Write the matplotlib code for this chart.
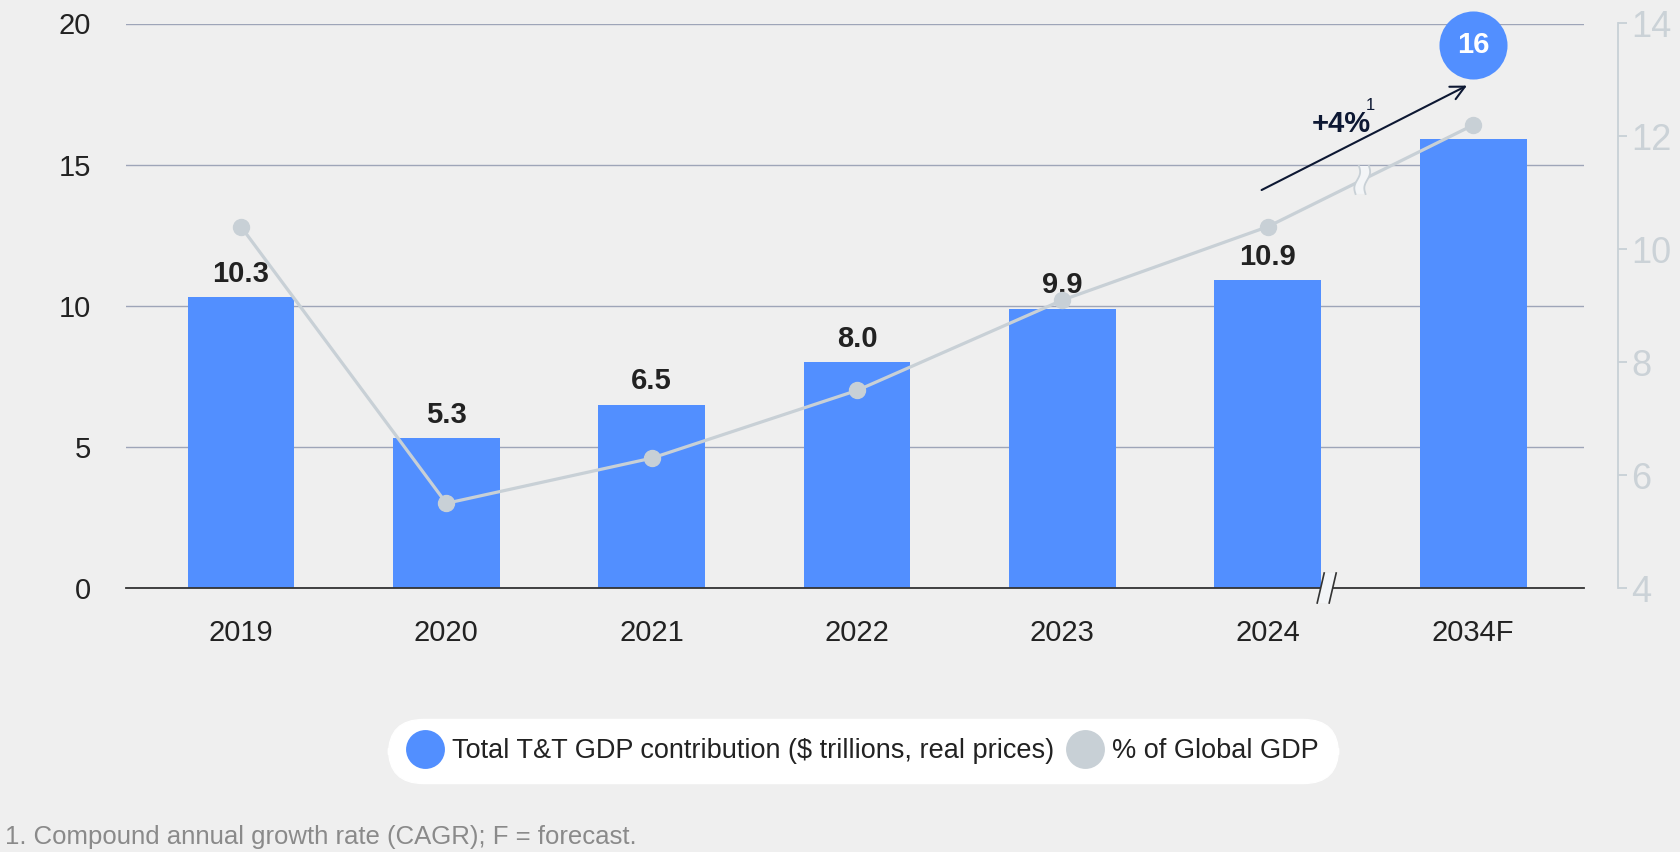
import matplotlib
matplotlib.use("Agg")
import matplotlib.pyplot as plt
import matplotlib.transforms as mtransforms
from matplotlib.lines import Line2D
from matplotlib.patches import Polygon
import numpy as np

years = ["2019", "2020", "2021", "2022", "2023", "2024", "2034F"]
gdp_contrib = [10.3, 5.3, 6.5, 8.0, 9.9, 10.9, 15.9]
bar_labels = ["10.3", "5.3", "6.5", "8.0", "9.9", "10.9", "16"]
global_share = [10.4, 5.5, 6.3, 7.5, 9.1, 10.4, 12.2]
left_ticks = [0, 5, 10, 15, 20]
right_ticks = [4, 6, 8, 10, 12, 14]
cagr_label = "+4%"
legend_labels = ["Total T&T GDP contribution ($ trillions, real prices)", "% of Global GDP"]
footnote = "1. Compound annual growth rate (CAGR); F = forecast."

BG = "#efefef"
BLUE = "#528fff"
GREY = "#c8d0d6"
NAVY = "#0d1833"
DARK = "#222222"

plt.rcParams["font.family"] = ["Liberation Sans", "DejaVu Sans"]

fig = plt.figure(figsize=(16.8, 8.52), dpi=100, facecolor=BG)
ax = fig.add_axes([126 / 1680, 1 - 588 / 852, 1458 / 1680, 564.5 / 852])
ax.set_facecolor(BG)

x = np.arange(len(years))
ax.bar(x, gdp_contrib, width=0.52, color=BLUE, zorder=2)
ax.set_xlim(-0.56, 6.54)
ax.set_ylim(0, 20)
ax.set_yticks(left_ticks)
ax.yaxis.grid(True, color="#9ea5b8", lw=1.0)
ax.set_axisbelow(True)
for s in ["left", "top", "right"]:
    ax.spines[s].set_visible(False)
ax.spines["bottom"].set_color("#333333")
ax.spines["bottom"].set_linewidth(1.3)
ax.tick_params(axis="y", length=0, pad=25, labelsize=21, labelcolor=DARK)
ax.set_xticks(x, years)
ax.tick_params(axis="x", length=0, pad=22, labelsize=21, labelcolor=DARK)

# value labels (last one goes in the circle)
for xi, v, lab in zip(x[:-1], gdp_contrib[:-1], bar_labels[:-1]):
    ax.annotate(lab, (xi, v), xytext=(0, 11), textcoords="offset points",
                ha="center", va="baseline", fontsize=21, fontweight="bold", color=DARK)

circ_tr = mtransforms.offset_copy(ax.transData, fig=fig, x=0, y=68, units="points")
ax.plot(x[-1], gdp_contrib[-1], "o", ms=49, color=BLUE, mec="none",
        transform=circ_tr, clip_on=False, zorder=5)
ax.text(x[-1], gdp_contrib[-1], bar_labels[-1], transform=circ_tr, ha="center",
        va="center", color="white", fontsize=21, fontweight="bold", zorder=6)

# CAGR arrow
ax.annotate("", xy=(5.97, 17.8), xytext=(4.97, 14.1),
            arrowprops=dict(arrowstyle="->", color=NAVY, lw=1.5, mutation_scale=25,
                            shrinkA=0, shrinkB=0))
ax.text(5.357, 16.17, cagr_label, ha="center", va="baseline", fontsize=21,
        fontweight="bold", color=NAVY)
ax.text(5.475, 16.95, "1", ha="left", va="baseline", fontsize=12, color=NAVY)

# x-axis break marks
brk_tr = fig.dpi_scale_trans + mtransforms.ScaledTranslation(5.287, 0, ax.transData)
ax.add_patch(Polygon([(-0.095, -0.15), (-0.025, 0.15), (0.095, 0.15), (0.025, -0.15)],
                     closed=True, fc="#f3f5f7", ec="none", transform=brk_tr,
                     clip_on=False, zorder=4))
for dx in (-0.06, 0.06):
    ax.plot([dx - 0.035, dx + 0.035], [-0.15, 0.15], color="#333333", lw=1.2,
            transform=brk_tr, clip_on=False, zorder=5)

# right axis: share of global GDP
ax2 = ax.twinx()
ax2.set_ylim(4, 14)
ax2.set_yticks(right_ticks)
ax2.plot(x, global_share, color=GREY, lw=2.3, marker="o", ms=11.5, zorder=3)
for s in ["left", "top", "bottom"]:
    ax2.spines[s].set_visible(False)
ax2.spines["right"].set_position(("axes", 1.0233))
ax2.spines["right"].set_color(GREY)
ax2.spines["right"].set_linewidth(1.3)
ax2.tick_params(axis="y", direction="out", length=6.5, width=1.3, color=GREY,
                labelcolor="#cbd2d7", labelsize=26, pad=3)

# break marks on the line between 2024 and 2034F
t = 0.46
by = global_share[5] + t * (global_share[6] - global_share[5])
lb_tr = fig.dpi_scale_trans + mtransforms.ScaledTranslation(5 + t, by, ax2.transData)
yy = np.linspace(-0.14, 0.14, 30)
wig = 0.02 * np.sin(yy / 0.14 * np.pi) + 0.12 * yy
left_edge = -0.05 + wig
right_edge = 0.05 + wig
ax2.add_patch(Polygon(np.r_[np.c_[left_edge, yy], np.c_[right_edge, yy][::-1]],
                      closed=True, fc="#f3f5f7", ec="none", transform=lb_tr, zorder=4))
for edge in (left_edge, right_edge):
    ax2.plot(edge, yy, color=GREY, lw=1.3, transform=lb_tr, zorder=5)

# legend
handles = [Line2D([], [], marker="o", ls="", ms=28, color=BLUE, mec="none"),
           Line2D([], [], marker="o", ls="", ms=28, color=GREY, mec="none")]
leg = fig.legend(handles, legend_labels, loc="center", bbox_to_anchor=(863 / 1680, 1 - 751 / 852),
                 ncol=2, frameon=True, fontsize=19.5, handletextpad=0.35, columnspacing=0.5,
                 borderpad=0.5, handlelength=1.3, labelcolor=DARK)
frame = leg.get_frame()
frame.set_facecolor("white")
frame.set_edgecolor("white")
frame.set_alpha(1)
frame.set_boxstyle("round", pad=0.2, rounding_size=1.3)

fig.text(5 / 1680, 1 - 837 / 852, footnote, ha="left", va="center", fontsize=18.5, color="#8a8a8a")

fig.savefig("out.png", dpi=100, facecolor=BG)
